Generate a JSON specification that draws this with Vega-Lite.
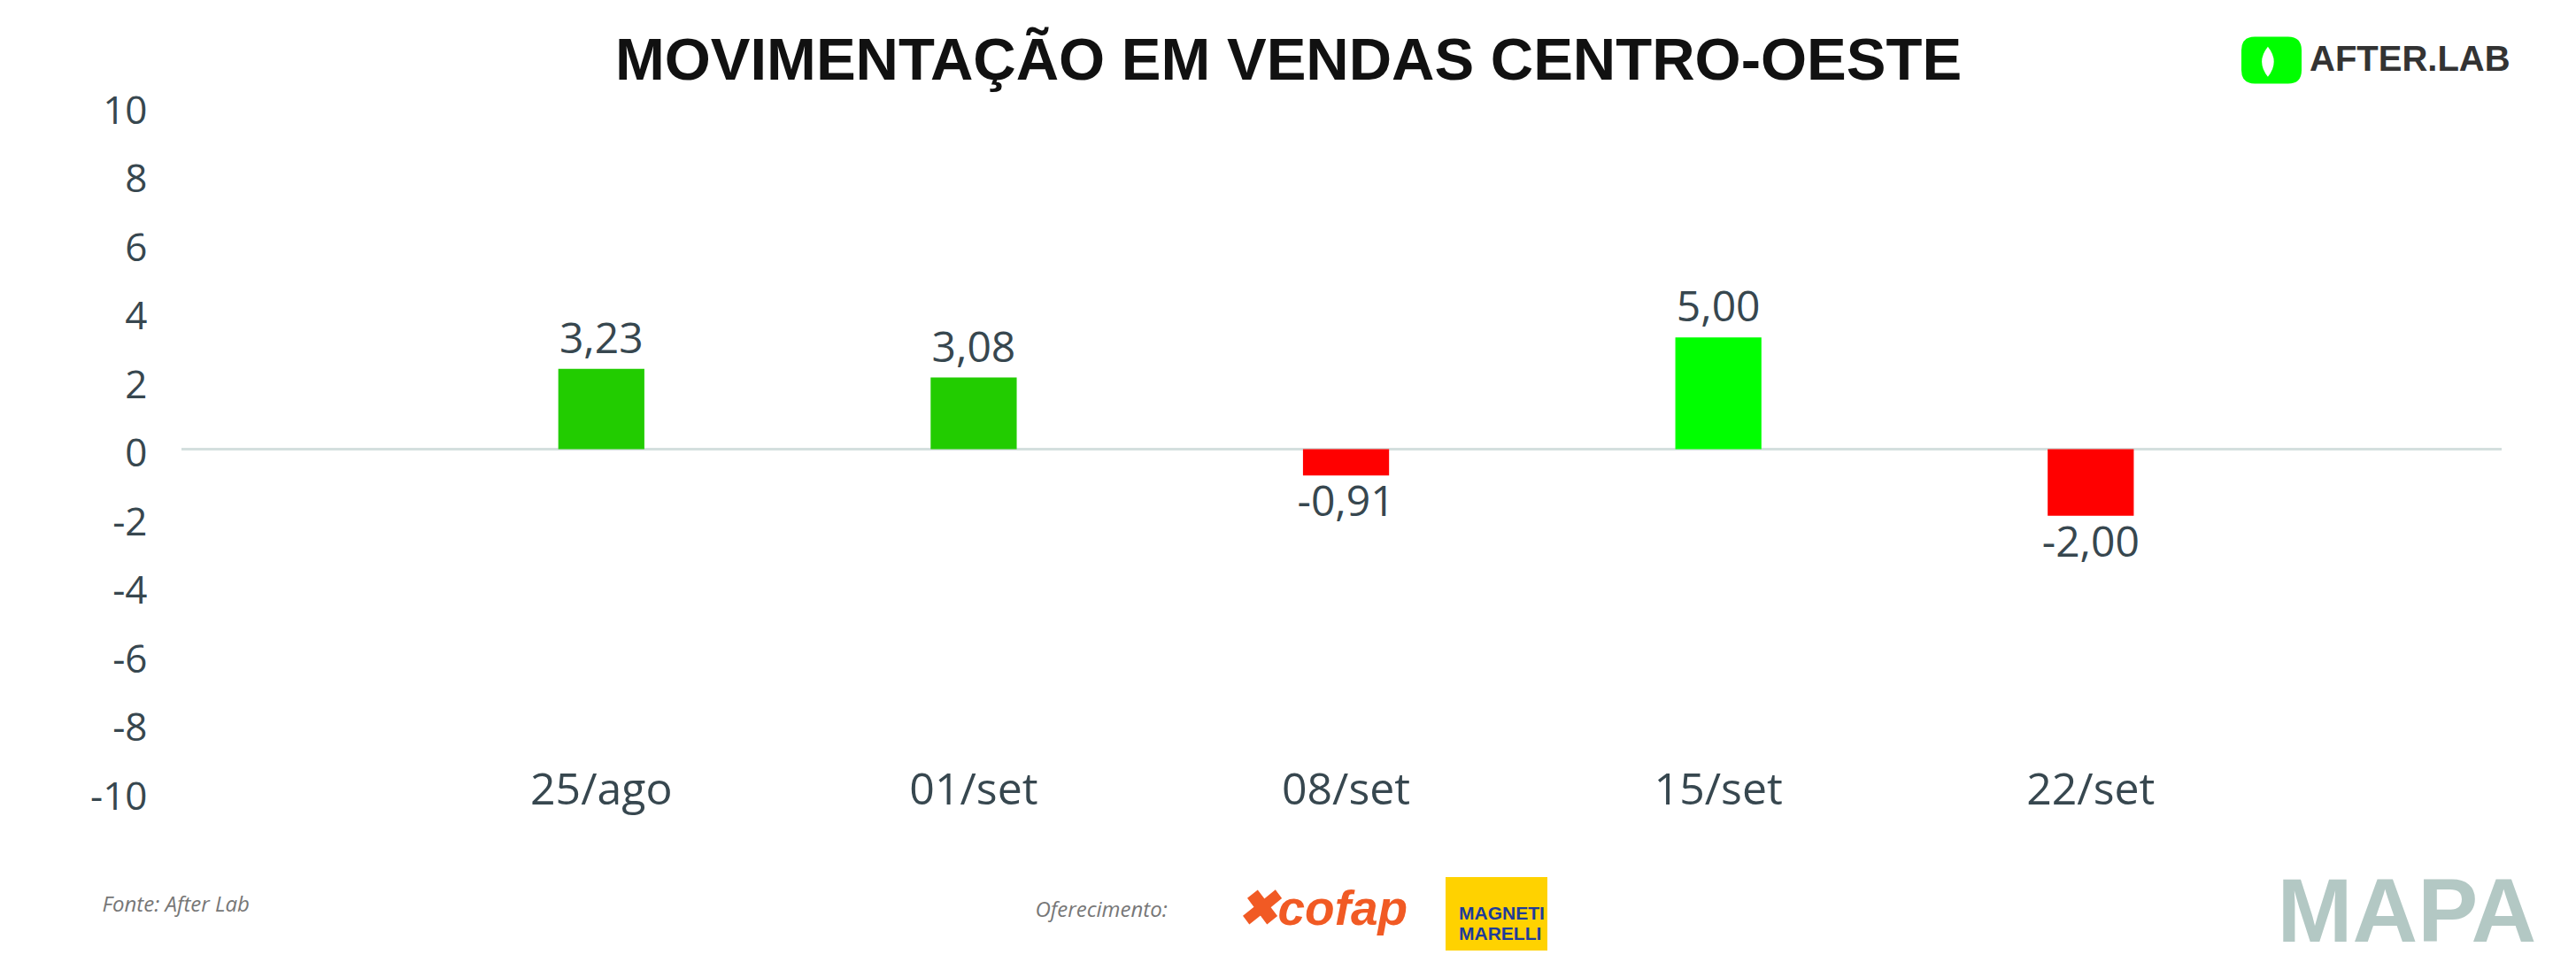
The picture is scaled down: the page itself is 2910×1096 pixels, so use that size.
{
  "$schema": "https://vega.github.io/schema/vega-lite/v6.json",
  "width": 2621,
  "height": 775,
  "autosize": {"type": "none"},
  "padding": {"left": 205, "top": 120, "right": 84, "bottom": 201},
  "background": "white",
  "title": {
    "text": "MOVIMENTAÇÃO EM VENDAS CENTRO-OESTE",
    "font": "Liberation Sans",
    "fontSize": 67,
    "fontWeight": "bold",
    "color": "#111111",
    "anchor": "middle",
    "frame": "group",
    "dx": -60,
    "offset": -70
  },
  "config": {
    "view": {"stroke": null},
    "axis": {"grid": false, "domain": false, "ticks": false, "tickSize": 0}
  },
  "data": {
    "values": [
      {"semana": "25/ago", "barra": 2.34, "rotulo": "3,23"},
      {"semana": "01/set", "barra": 2.09, "rotulo": "3,08"},
      {"semana": "08/set", "barra": -0.77, "rotulo": "-0,91"},
      {"semana": "15/set", "barra": 3.26, "rotulo": "5,00"},
      {"semana": "22/set", "barra": -1.94, "rotulo": "-2,00"}
    ]
  },
  "layer": [
    {
      "mark": {"type": "rule", "color": "#d4dfde", "strokeWidth": 3},
      "encoding": {
        "y": {"datum": 0, "type": "quantitative", "axis": null}
      }
    },
    {
      "mark": {"type": "bar", "color": "#ffd200"},
      "encoding": {
        "x": {
          "field": "semana",
          "type": "nominal",
          "scale": {
            "type": "band",
            "domain": ["25/ago", "01/set", "08/set", "15/set", "22/set"],
            "paddingInner": 0.7688,
            "paddingOuter": 1.0083,
            "align": 0.506
          },
          "axis": {
            "orient": "bottom",
            "labelFont": "Open Sans",
            "labelFontSize": 50,
            "labelColor": "#37474f",
            "labelAngle": 0,
            "labelBaseline": "alphabetic",
            "labelPadding": 13,
            "title": "Fonte: After Lab",
            "titleFont": "Open Sans",
            "titleFontSize": 24,
            "titleFontStyle": "italic",
            "titleFontWeight": "normal",
            "titleColor": "#777777",
            "titleX": -90,
            "titleY": 134,
            "titleAlign": "left",
            "titleBaseline": "alphabetic"
          }
        },
        "y": {
          "field": "barra",
          "type": "quantitative",
          "scale": {"domain": [-10, 10], "nice": false, "zero": false},
          "axis": {
            "orient": "left",
            "values": [-10, -8, -6, -4, -2, 0, 2, 4, 6, 8, 10],
            "labelExpr": "'' + datum.value",
            "labelFont": "Open Sans",
            "labelFontSize": 44,
            "labelColor": "#37474f",
            "labelPadding": 39,
            "labelOffset": 6,
            "title": "Oferecimento:",
            "titleFont": "Open Sans",
            "titleFontSize": 24,
            "titleFontStyle": "italic",
            "titleFontWeight": "normal",
            "titleColor": "#777777",
            "titleAngle": 0,
            "titleX": 964,
            "titleY": 915,
            "titleAlign": "left",
            "titleBaseline": "alphabetic"
          }
        },
        "color": {
          "field": "semana",
          "type": "nominal",
          "scale": {
            "domain": ["25/ago", "01/set", "08/set", "15/set", "22/set"],
            "range": ["#22cc00", "#22cc00", "#ff0000", "#00ff00", "#ff0000"]
          },
          "legend": {
            "orient": "none",
            "legendX": 2327,
            "legendY": -86,
            "values": ["15/set"],
            "title": null,
            "padding": 0,
            "symbolType": "M-0.55,-0.78H0.55Q1,-0.78 1,-0.33V0.33Q1,0.78 0.55,0.78H-0.55Q-1,0.78 -1,0.33V-0.33Q-1,-0.78 -0.55,-0.78Z M-0.12,-0.45Q-0.52,0.05 -0.12,0.55Q0.28,0.05 -0.12,-0.45Z",
            "symbolSize": 4624,
            "symbolStrokeWidth": 0,
            "labelExpr": "'AFTER.LAB'",
            "labelFont": "Liberation Sans",
            "labelFontSize": 40,
            "labelFontWeight": "bold",
            "labelColor": "#333333",
            "labelOffset": 9,
            "labelLimit": 500
          }
        },
        "opacity": {
          "field": "rotulo",
          "type": "nominal",
          "scale": {
            "domain": ["3,23", "3,08", "-0,91", "5,00", "-2,00"],
            "range": [1, 1, 1, 1, 1]
          },
          "legend": {
            "orient": "none",
            "legendX": 1428,
            "legendY": 855,
            "values": ["3,23"],
            "title": null,
            "padding": 0,
            "symbolType": "M-1,-0.72H1V0.72H-1Z",
            "symbolSize": 13225,
            "symbolFillColor": "#ffd200",
            "symbolStrokeWidth": 0,
            "labelExpr": "['MAGNETI', 'MARELLI', '']",
            "labelFont": "Liberation Sans",
            "labelFontSize": 21,
            "labelFontWeight": "bold",
            "labelColor": "#1f3c99",
            "labelOffset": -100,
            "labelLimit": 500
          }
        }
      }
    },
    {
      "transform": [{"filter": "datum.barra > 0"}],
      "mark": {"type": "text", "font": "Open Sans", "fontSize": 48, "color": "#37474f", "baseline": "alphabetic", "dy": -18},
      "encoding": {
        "x": {"field": "semana", "type": "nominal", "axis": null},
        "y": {"field": "barra", "type": "quantitative", "axis": null},
        "text": {"field": "rotulo"}
      }
    },
    {
      "transform": [{"filter": "datum.barra < 0"}],
      "mark": {"type": "text", "font": "Open Sans", "fontSize": 48, "color": "#37474f", "baseline": "alphabetic", "dy": 46},
      "encoding": {
        "x": {
          "field": "semana",
          "type": "nominal",
          "axis": {
            "orient": "top",
            "labels": false,
            "title": "✖cofap",
            "titleFont": "Liberation Sans",
            "titleFontSize": 55,
            "titleFontWeight": "bold",
            "titleFontStyle": "italic",
            "titleColor": "#f15a24",
            "titleX": 1192,
            "titleY": 924,
            "titleAlign": "left",
            "titleBaseline": "alphabetic"
          }
        },
        "y": {
          "field": "barra",
          "type": "quantitative",
          "axis": {
            "orient": "right",
            "labels": false,
            "title": "MAPA",
            "titleFont": "Liberation Sans",
            "titleFontSize": 102,
            "titleFontWeight": "bold",
            "titleColor": "#b3c8c4",
            "titleAngle": 0,
            "titleX": -254,
            "titleY": 943,
            "titleAlign": "left",
            "titleBaseline": "alphabetic"
          }
        },
        "text": {"field": "rotulo"}
      }
    }
  ],
  "resolve": {"axis": {"x": "independent", "y": "independent"}}
}
